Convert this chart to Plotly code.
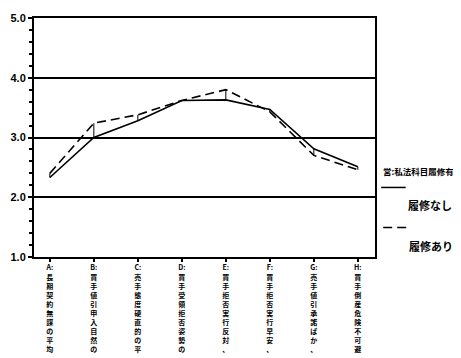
import plotly.graph_objects as go

categories = [
    "A:長期契約無謀の平均",
    "B:買手値引申入自然の",
    "C:売手態度硬直的の平",
    "D:買手受領拒否姿勢の",
    "E:買手拒否実行反対、",
    "F:買手拒否実行早安、",
    "G:売手値引承諾ばか、",
    "H:買手倒産危険不可避",
]
no_course = [2.33, 3.00, 3.28, 3.62, 3.63, 3.47, 2.81, 2.51]   # 履修なし
with_course = [2.40, 3.24, 3.38, 3.62, 3.80, 3.43, 2.70, 2.46]  # 履修あり
y_ticks = [1.0, 2.0, 3.0, 4.0, 5.0]

legend_title = "営:私法科目履修有無"
names = ["履修なし", "履修あり"]

xs = list(range(len(categories)))
# stack characters vertically like the original print, letter+colon in one cell
ticktext = [c[:2] + "<br>" + "<br>".join(list(c[2:])) for c in categories]

fig = go.Figure()

# high-low connectors between the two series
hx, hy = [], []
for i in xs:
    hx += [i, i, None]
    hy += [no_course[i], with_course[i], None]
fig.add_trace(go.Scatter(x=hx, y=hy, mode="lines",
                         line=dict(color="black", width=1), hoverinfo="skip"))

fig.add_trace(go.Scatter(x=xs, y=no_course, mode="lines", name=names[0],
                         line=dict(color="black", width=1.6)))
fig.add_trace(go.Scatter(x=xs, y=with_course, mode="lines", name=names[1],
                         line=dict(color="black", width=1.6, dash="9px,5px")))

jp = "Noto Sans CJK JP"

fig.update_layout(
    width=461, height=358,
    margin=dict(l=26, r=94, t=10, b=109),
    paper_bgcolor="white", plot_bgcolor="white",
    showlegend=False,
    xaxis=dict(
        range=[-0.36, 7.39], tickvals=xs, ticktext=ticktext,
        tickangle=0, showgrid=False, zeroline=False, automargin=False,
        showline=True, linecolor="black", linewidth=2, mirror=True,
        ticks="outside", ticklen=3, tickwidth=2, tickcolor="black",
        tickfont=dict(family=jp, size=7, color="black", weight="bold"),
    ),
    yaxis=dict(
        range=[1, 5], tickvals=y_ticks, ticktext=[f"{v:.1f}" for v in y_ticks],
        showgrid=True, gridcolor="black", gridwidth=1.5, zeroline=False,
        automargin=False,
        showline=True, linecolor="black", linewidth=2, mirror=True,
        ticks="outside", ticklen=4, tickwidth=1.5, tickcolor="black",
        minor=dict(dtick=0.2, ticks="outside", ticklen=3, tickcolor="black",
                   showgrid=False),
        tickfont=dict(family="Liberation Sans", size=11, color="black",
                      weight="bold"),
    ),
)

# legend drawn like the scan: sample line above its label
fig.add_annotation(x=1.018, y=0.328, xref="paper", yref="paper",
                   text=legend_title, showarrow=False, xanchor="left",
                   font=dict(family=jp, size=8.5, color="black", weight="bold"))
fig.add_shape(type="line", xref="paper", yref="paper",
              x0=1.018, x1=1.09, y0=0.291, y1=0.291,
              line=dict(color="black", width=1.5))
fig.add_annotation(x=1.09, y=0.176, xref="paper", yref="paper",
                   text=names[0], showarrow=False, xanchor="left",
                   font=dict(family=jp, size=11, color="black", weight="bold"))
fig.add_shape(type="line", xref="paper", yref="paper",
              x0=1.024, x1=1.097, y0=0.123, y1=0.123,
              line=dict(color="black", width=1.5, dash="9px,5px"))
fig.add_annotation(x=1.093, y=0.004, xref="paper", yref="paper",
                   text=names[1], showarrow=False, xanchor="left",
                   font=dict(family=jp, size=11, color="black", weight="bold"))

fig.write_html("out.html")
